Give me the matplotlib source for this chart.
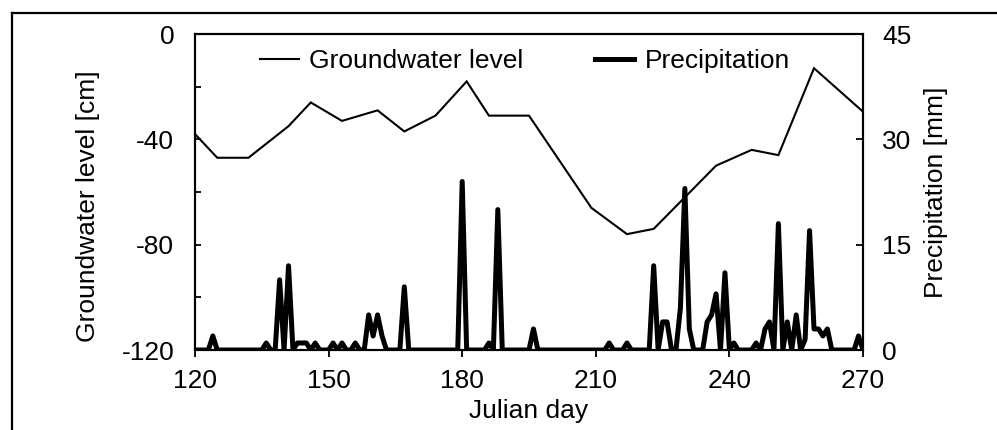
import numpy as np
import matplotlib
matplotlib.use("Agg")
import matplotlib.pyplot as plt
from matplotlib.lines import Line2D

plt.rcParams['font.family'] = ['Liberation Sans', 'DejaVu Sans']

# Groundwater level (cm)
gw_days = [120, 125, 132, 141, 146, 153, 161, 167, 174, 181, 186, 195,
           209, 217, 223, 237, 245, 251, 259, 270]
gw_level = [-38, -47, -47, -35, -26, -33, -29, -37, -31, -18, -31, -31,
            -66, -76, -74, -50, -44, -46, -13, -29.5]

# Precipitation (mm), days with rain; all other days are 0
rain_days = [124, 136, 139, 141, 143, 144, 145, 147, 151, 153, 156, 159, 160,
             161, 162, 167, 180, 186, 188, 196, 213, 217, 223, 225, 226, 229,
             230, 231, 235, 236, 237, 239, 241, 246, 248, 249, 251, 253, 255,
             257, 258, 259, 260, 261, 262, 269]
rain_mm = [2, 1, 10, 12, 1, 1, 1, 1, 1, 1, 1, 5, 2,
           5, 2, 9, 24, 1, 20, 3, 1, 1, 12, 4, 4, 6,
           23, 3, 4, 5, 8, 11, 1, 1, 3, 4, 18, 4, 5,
           1.5, 17, 3, 3, 2, 3, 2]
first_day, last_day = 120, 270

days = np.arange(first_day, last_day + 1)
precip = np.zeros(len(days))
for d, v in zip(rain_days, rain_mm):
    precip[d - first_day] = v

x_ticks = [120, 150, 180, 210, 240, 270]
gw_ticks = [0, -20, -40, -60, -80, -100, -120]
pr_ticks = [0, 15, 30, 45]

W, H = 997, 430
fig = plt.figure(figsize=(W / 100, H / 100), dpi=100)
ax = fig.add_axes([195 / W, 1 - 350 / H, (863 - 195) / W, (350 - 34) / H])
ax2 = ax.twinx()

l1, = ax.plot(gw_days, gw_level, color='black', lw=1.5, solid_joinstyle='miter')
l2, = ax2.plot(days, precip, color='black', lw=3.6, solid_joinstyle='round')

ax.set_xlim(120, 270)
ax.set_ylim(-120, 0)
ax2.set_ylim(0, 45)

ax.set_xticks(x_ticks)
ax.set_yticks(gw_ticks)
ax.set_yticklabels([str(t) if t % 40 == 0 else '' for t in gw_ticks])
ax2.set_yticks(pr_ticks)

fs = 19
ax.tick_params(axis='x', direction='out', length=5, width=1.3, labelsize=fs, pad=9)
ax.tick_params(axis='y', direction='in', length=4, width=1.3, labelsize=fs, pad=15)
ax2.tick_params(axis='y', direction='in', length=5, width=1.3, labelsize=fs, pad=14)

for a in (ax, ax2):
    for s in a.spines.values():
        s.set_linewidth(1.5)

ax.set_xlabel('Julian day', fontsize=fs, labelpad=4)
ax.set_ylabel('Groundwater level [cm]', fontsize=fs)
ax.yaxis.set_label_coords(-0.142, 0.456)
ax2.set_ylabel('Precipitation [mm]', fontsize=fs)
ax2.yaxis.set_label_coords(1.091, 0.5)

leg = ax2.legend([l1, l2], ['Groundwater level', 'Precipitation'], ncol=2,
                 loc='center left', bbox_to_anchor=(0.097, 0.915),
                 frameon=False, fontsize=fs, handlelength=1.5,
                 handletextpad=0.38, columnspacing=2.7, borderpad=0,
                 borderaxespad=0)

# outer frame (cut at right and bottom)
fx = 12 / W
fy = 1 - 12.5 / H
fig.add_artist(Line2D([fx, fx], [-0.01, fy], transform=fig.transFigure,
                      color='black', lw=1.6))
fig.add_artist(Line2D([fx, 1.01], [fy, fy], transform=fig.transFigure,
                      color='black', lw=1.6))

fig.savefig('out.png', dpi=100)
